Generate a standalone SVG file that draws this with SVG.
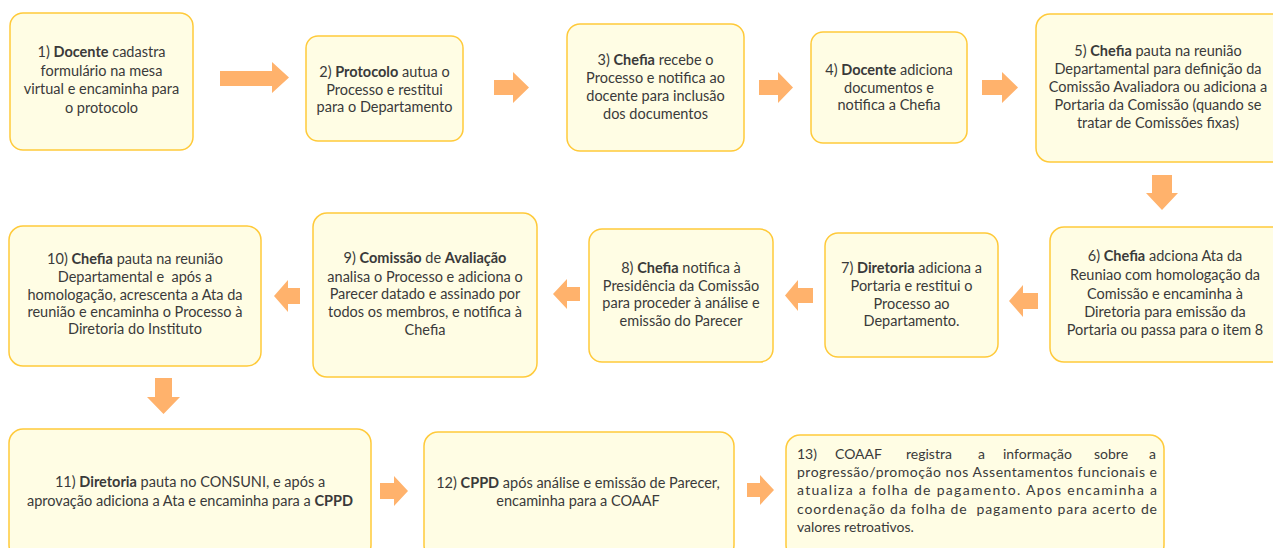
<svg xmlns="http://www.w3.org/2000/svg" width="1273" height="548" viewBox="0 0 1273 548">
<style>
.box{fill:#FFFDE4;stroke:#FFCA3A;stroke-width:1.5}
.t{font-family:Lato,"Open Sans",sans-serif;font-size:14.5px;fill:#3a3a3a;text-anchor:middle}
.j{font-family:Lato,"Open Sans",sans-serif;font-size:14px;fill:#3a3a3a}
.b{font-weight:bold}
.arr{fill:#FFB26C}
</style>
<rect width="1273" height="548" fill="#ffffff"/>
<g id="connectors">
<polygon class="arr" points="220,71 272,71 272,62 289,77.5 272,93 272,86 220,86"/>
<polygon class="arr" points="494,80 513,80 513,72 529,87.5 513,103 513,95 494,95"/>
<polygon class="arr" points="759,80 778,80 778,72 793,87.5 778,103 778,95 759,95"/>
<polygon class="arr" points="982,80 1002,80 1002,72 1018,87.5 1002,103 1002,95 982,95"/>
<polygon class="arr" points="1152,175 1172,175 1172,193 1178,193 1162,210 1146,193 1152,193"/>
<polygon class="arr" points="1038,293 1023,293 1023,285 1009,301 1023,317 1023,309 1038,309"/>
<polygon class="arr" points="813,288 798,288 798,280 785,295.5 798,311 798,303 813,303"/>
<polygon class="arr" points="580,287 567,287 567,279 553,294 567,309 567,301 580,301"/>
<polygon class="arr" points="300,288 288,288 288,280 274,296 288,312 288,304 300,304"/>
<polygon class="arr" points="155,378 172,378 172,397 180,397 163.5,414 147,397 155,397"/>
<polygon class="arr" points="380,483 394,483 394,476 408,491 394,506 394,499 380,499"/>
<polygon class="arr" points="747,483 760,483 760,475 774,490 760,505 760,497 747,497"/>
</g>
<g id="n1">
<rect class="box" x="10" y="13" width="183" height="137" rx="13"/>
<text class="t" x="101.5" y="57"><tspan>1) </tspan><tspan class="b">Docente</tspan><tspan> cadastra</tspan></text>
<text class="t" x="101.5" y="76">formulário na mesa</text>
<text class="t" x="101.5" y="94">virtual e encaminha para</text>
<text class="t" x="101.5" y="113">o protocolo</text>
</g>
<g id="n2">
<rect class="box" x="306" y="36" width="157" height="105" rx="12"/>
<text class="t" x="384.5" y="77"><tspan>2) </tspan><tspan class="b">Protocolo</tspan><tspan> autua o</tspan></text>
<text class="t" x="384.5" y="94.5">Processo e restitui</text>
<text class="t" x="384.5" y="112">para o Departamento</text>
</g>
<g id="n3">
<rect class="box" x="567" y="24" width="177" height="127" rx="13"/>
<text class="t" x="655.5" y="65"><tspan>3) </tspan><tspan class="b">Chefia</tspan><tspan> recebe o</tspan></text>
<text class="t" x="655.5" y="83">Processo e notifica ao</text>
<text class="t" x="655.5" y="101">docente para inclusão</text>
<text class="t" x="655.5" y="119">dos documentos</text>
</g>
<g id="n4">
<rect class="box" x="811" y="32" width="156" height="111" rx="12"/>
<text class="t" x="889" y="75"><tspan>4) </tspan><tspan class="b">Docente</tspan><tspan> adiciona</tspan></text>
<text class="t" x="889" y="93">documentos e</text>
<text class="t" x="889" y="110">notifica a Chefia</text>
</g>
<g id="n5">
<rect class="box" x="1036" y="14" width="250" height="148" rx="14"/>
<text class="t" x="1158" y="56"><tspan>5) </tspan><tspan class="b">Chefia</tspan><tspan> pauta na reunião</tspan></text>
<text class="t" x="1158" y="74">Departamental para definição da</text>
<text class="t" x="1158" y="92">Comissão Avaliadora ou adiciona a</text>
<text class="t" x="1158" y="110">Portaria da Comissão (quando se</text>
<text class="t" x="1158" y="128">tratar de Comissões fixas)</text>
</g>
<g id="n6">
<rect class="box" x="1050" y="227" width="236" height="135" rx="14"/>
<text class="t" x="1165" y="261"><tspan>6) </tspan><tspan class="b">Chefia</tspan><tspan> adciona Ata da</tspan></text>
<text class="t" x="1165" y="280">Reuniao com homologação da</text>
<text class="t" x="1165" y="299">Comissão e encaminha à</text>
<text class="t" x="1165" y="317">Diretoria para emissão da</text>
<text class="t" x="1165" y="335">Portaria ou passa para o item 8</text>
</g>
<g id="n7">
<rect class="box" x="825" y="233" width="173" height="124" rx="13"/>
<text class="t" x="911.5" y="273"><tspan>7) </tspan><tspan class="b">Diretoria</tspan><tspan> adiciona a</tspan></text>
<text class="t" x="911.5" y="291">Portaria e restitui o</text>
<text class="t" x="911.5" y="309">Processo ao</text>
<text class="t" x="911.5" y="326">Departamento.</text>
</g>
<g id="n8">
<rect class="box" x="589" y="229" width="184" height="133" rx="13"/>
<text class="t" x="681" y="273"><tspan>8) </tspan><tspan class="b">Chefia</tspan><tspan> notifica à</tspan></text>
<text class="t" x="681" y="291">Presidência da Comissão</text>
<text class="t" x="681" y="308">para proceder à análise e</text>
<text class="t" x="681" y="326">emissão do Parecer</text>
</g>
<g id="n9">
<rect class="box" x="313" y="213" width="224" height="164" rx="14"/>
<text class="t" x="425" y="263"><tspan>9) </tspan><tspan class="b">Comissão</tspan><tspan> de </tspan><tspan class="b">Avaliação</tspan></text>
<text class="t" x="425" y="282">analisa o Processo e adiciona o</text>
<text class="t" x="425" y="299">Parecer datado e assinado por</text>
<text class="t" x="425" y="317">todos os membros, e notifica à</text>
<text class="t" x="425" y="335">Chefia</text>
</g>
<g id="n10">
<rect class="box" x="9" y="226" width="252" height="140" rx="14"/>
<text class="t" x="135" y="264"><tspan>10) </tspan><tspan class="b">Chefia</tspan><tspan> pauta na reunião</tspan></text>
<text class="t" x="135" y="282" xml:space="preserve">Departamental e  após a</text>
<text class="t" x="135" y="300">homologação, acrescenta a Ata da</text>
<text class="t" x="135" y="317">reunião e encaminha o Processo à</text>
<text class="t" x="135" y="334">Diretoria do Instituto</text>
</g>
<g id="n11">
<rect class="box" x="9" y="429" width="362" height="130" rx="14"/>
<text class="t" x="190" y="487"><tspan>11) </tspan><tspan class="b">Diretoria</tspan><tspan> pauta no CONSUNI, e após a</tspan></text>
<text class="t" x="190" y="506"><tspan>aprovação adiciona a Ata e encaminha para a </tspan><tspan class="b">CPPD</tspan></text>
</g>
<g id="n12">
<rect class="box" x="424" y="432" width="310" height="127" rx="14"/>
<text class="t" x="578" y="488"><tspan>12) </tspan><tspan class="b">CPPD</tspan><tspan> após análise e emissão de Parecer,</tspan></text>
<text class="t" x="578" y="506">encaminha para a COAAF</text>
</g>
<g id="n13">
<rect class="box" x="786" y="435" width="378" height="124" rx="14"/>
<text class="j" y="459"><tspan x="797">13)</tspan> <tspan x="835">COAAF</tspan> <tspan x="906">registra</tspan> <tspan x="978">a</tspan> <tspan x="1003">informação</tspan> <tspan x="1094">sobre</tspan> <tspan x="1149">a</tspan></text>
<text class="j" x="797" y="477" textLength="360" lengthAdjust="spacing">progressão/promoção nos Assentamentos funcionais e</text>
<text class="j" x="797" y="495" textLength="360" lengthAdjust="spacing">atualiza a folha de pagamento. Apos encaminha a</text>
<text class="j" x="797" y="514" textLength="360" lengthAdjust="spacing" xml:space="preserve">coordenação da folha de  pagamento para acerto de</text>
<text class="j" x="797" y="532">valores retroativos.</text>
</g>
</svg>
